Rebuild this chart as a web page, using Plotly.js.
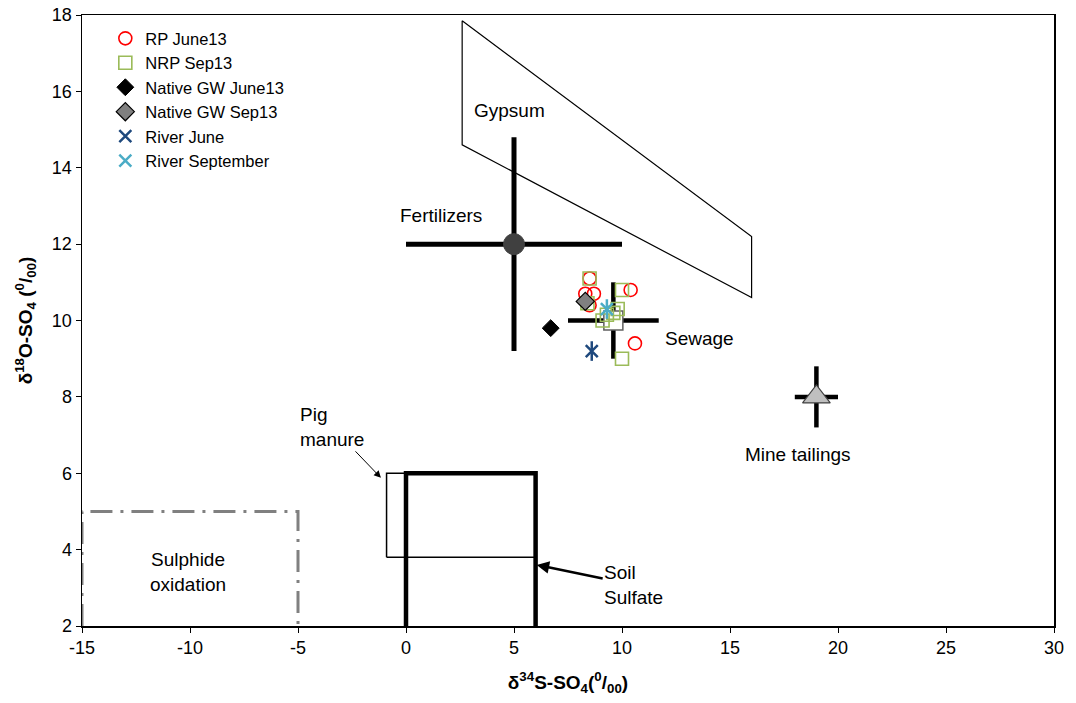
<!DOCTYPE html>
<html>
<head>
<meta charset="utf-8">
<script src="https://cdn.plot.ly/plotly-3.0.1.min.js"></script>
<style>html,body{margin:0;padding:0;background:#fff;}#chart{width:1076px;height:703px;}</style>
</head>
<body>
<div id="chart"></div>
<script>
// ---- sample data ----
const rpJuneX = [8.5, 10.4, 8.3, 8.7, 8.5, 10.6];
const rpJuneY = [11.1, 10.8, 10.7, 10.7, 10.4, 9.4];
const nrpSepX = [8.5, 10.0, 9.8, 9.3, 9.1, 8.4, 10.0, 9.6];
const nrpSepY = [11.1, 10.8, 10.3, 10.15, 10.0, 10.45, 9.0, 10.2];
const gwJuneX = [6.7];
const gwJuneY = [9.8];
const gwSepX = [8.3];
const gwSepY = [10.5];
const riverJuneX = [8.6];
const riverJuneY = [9.2];
const riverSepX = [9.3];
const riverSepY = [10.3];

// ---- source signatures ----
const fertX = [5], fertY = [12], fertErrX = [5], fertErrY = [2.8];
const sewageX = [9.6], sewageY = [10], sewageErrX = [2.1], sewageErrY = [1];
const mineX = [19], mineY = [8], mineErrX = [1], mineErrY = [0.8];
const gypsumX = [2.6, 2.6, 16, 16, 2.6];
const gypsumY = [17.85, 14.6, 10.6, 12.2, 17.85];
const pigX = [-0.9, 6, 6, -0.9, -0.9];
const pigY = [3.8, 3.8, 6, 6, 3.8];
const soilX = [0, 0, 6, 6];
const soilY = [2, 6, 6, 2];
const sulphX = [-15, -15, -5, -5];
const sulphY = [2, 5, 5, 2];

// ---- axis ticks ----
const xTicks = [-15, -10, -5, 0, 5, 10, 15, 20, 25, 30];
const yTicks = [2, 4, 6, 8, 10, 12, 14, 16, 18];

const FONT = 'Liberation Sans, Arial, sans-serif';

const traces = [
  {x: sulphX, y: sulphY, mode: 'lines', showlegend: false, hoverinfo: 'skip',
   line: {color: '#808080', width: 3, dash: '22px,8px,3px,8px'}},
  {x: gypsumX, y: gypsumY, mode: 'lines', showlegend: false, hoverinfo: 'skip',
   line: {color: '#000', width: 1.2}},
  {x: pigX, y: pigY, mode: 'lines', showlegend: false, hoverinfo: 'skip',
   line: {color: '#000', width: 1.5}},
  {x: soilX, y: soilY, mode: 'lines', showlegend: false, hoverinfo: 'skip',
   line: {color: '#000', width: 4.5}},
  {x: fertX, y: fertY, mode: 'markers', showlegend: false,
   marker: {symbol: 'circle', size: 21, color: '#404040', line: {color: '#404040', width: 1}},
   error_x: {type: 'data', array: fertErrX, color: '#000', thickness: 5, width: 0},
   error_y: {type: 'data', array: fertErrY, color: '#000', thickness: 5, width: 0}},
  {x: sewageX, y: sewageY, mode: 'markers', showlegend: false,
   marker: {symbol: 'square', size: 19, color: '#fff', line: {color: '#606060', width: 1.5}},
   error_x: {type: 'data', array: sewageErrX, color: '#000', thickness: 4.5, width: 0},
   error_y: {type: 'data', array: sewageErrY, color: '#000', thickness: 4.5, width: 0}},
  {x: mineX, y: mineY, mode: 'markers', showlegend: false,
   marker: {symbol: 'triangle-up', size: 24, color: '#BFBFBF', line: {color: '#404040', width: 1.2}},
   error_x: {type: 'data', array: mineErrX, color: '#000', thickness: 4.5, width: 0},
   error_y: {type: 'data', array: mineErrY, color: '#000', thickness: 4.5, width: 0}},
  {x: rpJuneX, y: rpJuneY, mode: 'markers', name: 'RP June13',
   marker: {symbol: 'circle-open', size: 13, color: '#FF0000', line: {width: 1.6}}},
  {x: nrpSepX, y: nrpSepY, mode: 'markers', name: 'NRP Sep13',
   marker: {symbol: 'square-open', size: 13, color: '#9BBB59', line: {width: 1.6}}},
  {x: gwJuneX, y: gwJuneY, mode: 'markers', name: 'Native GW June13',
   marker: {symbol: 'diamond', size: 13, color: '#000', line: {color: '#000', width: 1}}},
  {x: gwSepX, y: gwSepY, mode: 'markers', name: 'Native GW Sep13',
   marker: {symbol: 'diamond', size: 14, color: '#808080', line: {color: '#000', width: 1.2}}},
  {x: riverJuneX, y: riverJuneY, mode: 'markers', name: 'River June', legendgroup: 'rj',
   marker: {symbol: 'x-thin-open', size: 12, color: '#1F497D', line: {color: '#1F497D', width: 2.5}}},
  {x: riverJuneX, y: riverJuneY, mode: 'markers', showlegend: false, legendgroup: 'rj',
   marker: {symbol: 'line-ns-open', size: 14, color: '#1F497D', line: {color: '#1F497D', width: 2.5}}},
  {x: riverSepX, y: riverSepY, mode: 'markers', name: 'River September', legendgroup: 'rs',
   marker: {symbol: 'x-thin-open', size: 12, color: '#4BACC6', line: {color: '#4BACC6', width: 2.5}}},
  {x: riverSepX, y: riverSepY, mode: 'markers', showlegend: false, legendgroup: 'rs',
   marker: {symbol: 'line-ns-open', size: 14, color: '#4BACC6', line: {color: '#4BACC6', width: 2.5}}}
];

const lblFont = {family: FONT, size: 19, color: '#000'};
const annotations = [
  {x: 4.8, y: 15.5, text: 'Gypsum', showarrow: false, font: lblFont},
  {x: 1.6, y: 12.76, text: 'Fertilizers', showarrow: false, font: lblFont},
  {x: 13.6, y: 9.54, text: 'Sewage', showarrow: false, font: lblFont},
  {x: 18.15, y: 6.48, text: 'Mine tailings', showarrow: false, font: lblFont},
  {x: -10.1, y: 3.41, text: 'Sulphide<br>oxidation', showarrow: false, font: lblFont},
  {x: -1.16, y: 5.88, text: 'Pig<br>manure', align: 'left', font: lblFont,
   showarrow: true, arrowhead: 2, arrowsize: 1.4, arrowwidth: 1, arrowcolor: '#000', ax: -49, ay: -51, standoff: 0},
  {x: 6.05, y: 3.6, text: 'Soil<br>Sulfate', align: 'left', font: lblFont,
   showarrow: true, arrowhead: 2, arrowsize: 1, arrowwidth: 2.5, arrowcolor: '#000', ax: 97, ay: 20, standoff: 0}
];

const layout = {
  width: 1076, height: 703,
  margin: {l: 82, r: 22, t: 15, b: 77},
  paper_bgcolor: '#fff', plot_bgcolor: '#fff',
  font: {family: FONT, size: 17, color: '#000'},
  showlegend: true,
  legend: {x: 0.024, y: 0.99, xanchor: 'left', yanchor: 'top', bgcolor: 'rgba(0,0,0,0)',
           font: {family: FONT, size: 16.5, color: '#000'}, tracegroupgap: 0, itemwidth: 30},
  xaxis: {range: [-15, 30], tickvals: xTicks, ticktext: xTicks.map(String), showgrid: false, zeroline: false,
          showline: true, linecolor: '#000', linewidth: 1.5, mirror: true,
          ticks: 'outside', ticklen: 5, tickcolor: '#000',
          tickfont: {family: FONT, size: 18, color: '#000'},
          title: {text: '<b>δ<sup>34</sup>S-SO<sub>4</sub>(<sup>0</sup>/<sub>00</sub>)</b>', font: {family: FONT, size: 19, color: '#000'}, standoff: 18}},
  yaxis: {range: [2, 18], tickvals: yTicks, ticktext: yTicks.map(String), showgrid: false, zeroline: false,
          showline: true, linecolor: '#000', linewidth: 1.5, mirror: true,
          ticks: 'outside', ticklen: 5, tickcolor: '#000',
          tickfont: {family: FONT, size: 18, color: '#000'},
          title: {text: '<b>δ<sup>18</sup>O-SO<sub>4</sub> (<sup>0</sup>/<sub>00</sub>)</b>', font: {family: FONT, size: 19, color: '#000'}, standoff: 14}},
  annotations: annotations
};

Plotly.newPlot('chart', traces, layout, {displayModeBar: false, staticPlot: true});
</script>
</body>
</html>
